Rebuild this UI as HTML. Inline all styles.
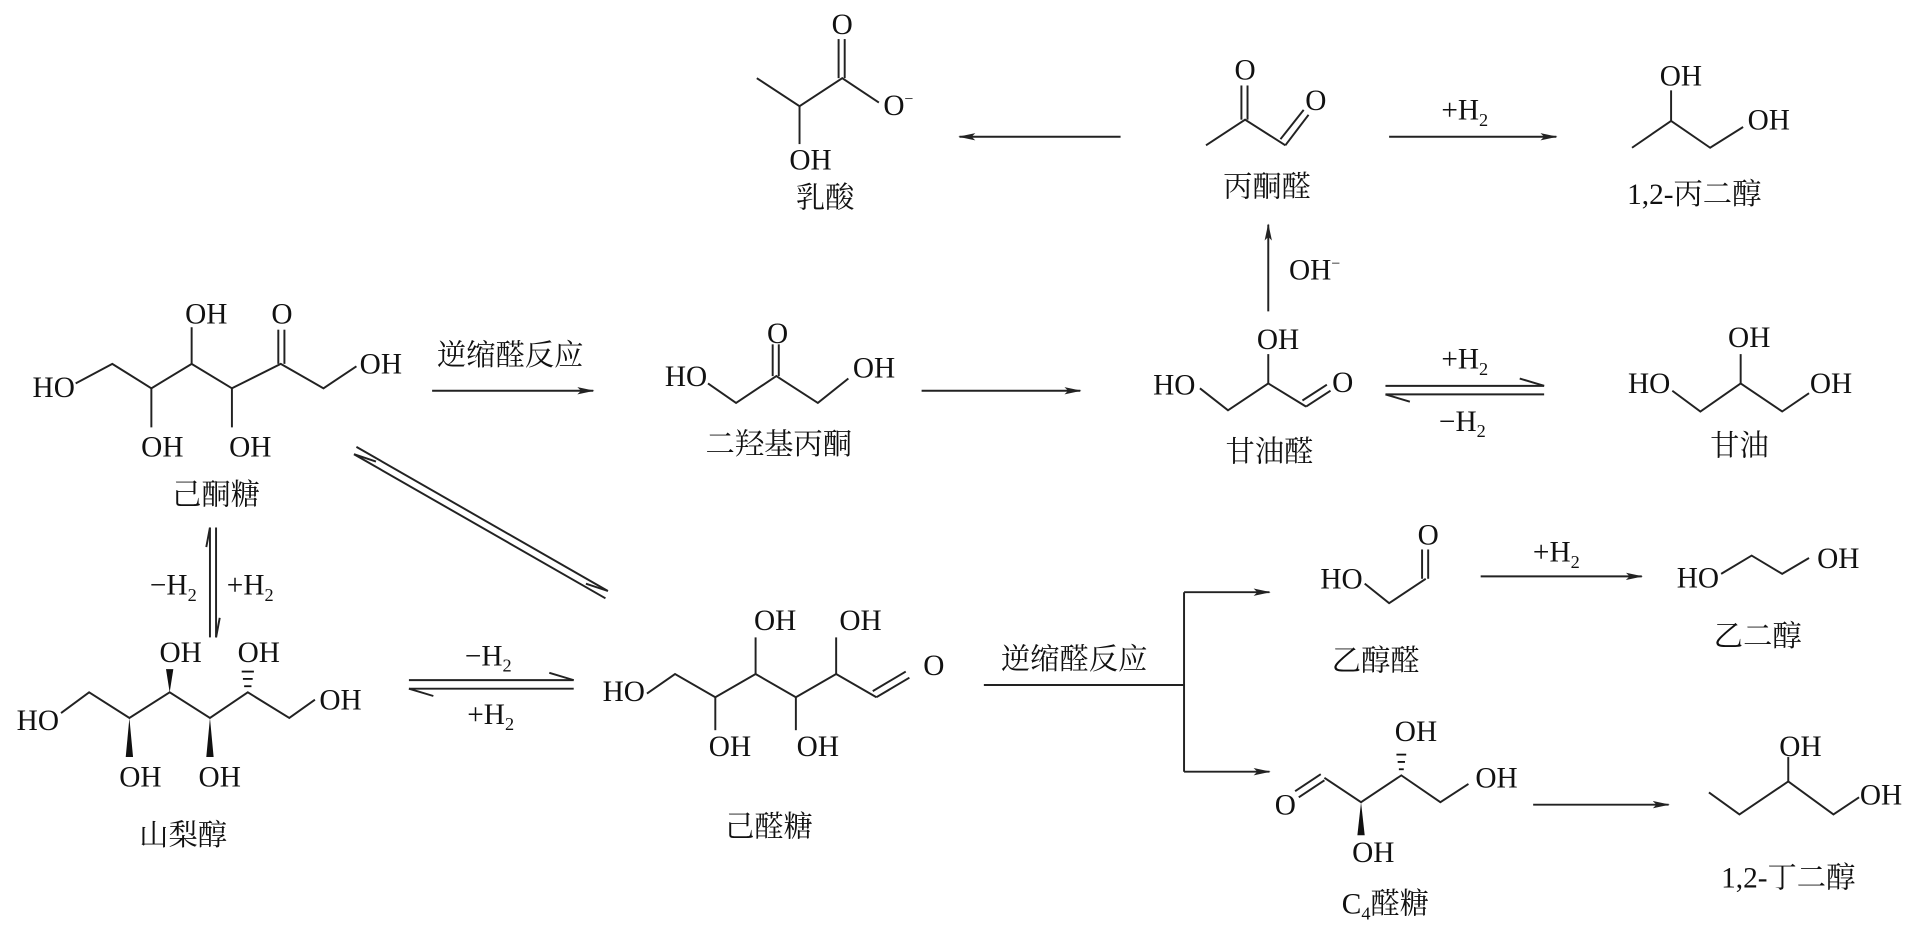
<!DOCTYPE html>
<html><head><meta charset="utf-8"><style>
html,body{margin:0;padding:0;background:#fff;}
svg{display:block;}
text{font-family:"Liberation Serif","Noto Serif CJK SC",serif;font-size:24px;fill:#111;}
.cn{font-family:"Liberation Serif","Noto Serif CJK SC","Noto Sans CJK SC",serif;font-size:24px;}
</style></head><body>
<svg width="1914" height="928" viewBox="0 0 1568 760" preserveAspectRatio="none" xmlns="http://www.w3.org/2000/svg">
<defs>
<marker id="ah" markerWidth="14" markerHeight="8" refX="13" refY="4" orient="auto" markerUnits="userSpaceOnUse">
<path d="M0,1 L14,4 L0,7 L3,4 Z" fill="#222"/></marker>
</defs>
<g stroke="#222" stroke-width="1.6" fill="none">
<polyline points="620,64 655,87 690,64 720,84"/>
<line x1="687" y1="64" x2="687" y2="32"/><line x1="692" y1="64" x2="692" y2="32"/>
<line x1="655" y1="87" x2="655" y2="118"/>
<line x1="918" y1="112" x2="786" y2="112" marker-end="url(#ah)"/>
<polyline points="988,119 1020,98 1053,119"/>
<line x1="1017" y1="98" x2="1017" y2="70"/><line x1="1022" y1="98" x2="1022" y2="70"/>
<line x1="1053" y1="119" x2="1072" y2="94"/><line x1="1049" y1="114" x2="1068" y2="90"/>
<line x1="1138" y1="112" x2="1275" y2="112" marker-end="url(#ah)"/>
<polyline points="1337,121 1369,99 1401,121 1428,104"/>
<line x1="1369" y1="99" x2="1369" y2="74"/>
<line x1="1039" y1="255" x2="1039" y2="184" marker-end="url(#ah)"/>
<polyline points="62,314 92,298 124,318 157,298 190,318 230,298 265,318 292,300"/>
<line x1="157" y1="298" x2="157" y2="268"/>
<line x1="228" y1="298" x2="228" y2="270"/><line x1="233" y1="298" x2="233" y2="270"/>
<line x1="124" y1="318" x2="124" y2="350"/><line x1="190" y1="318" x2="190" y2="350"/>
<line x1="354" y1="320" x2="486" y2="320" marker-end="url(#ah)"/>
<polyline points="580,314 603,330 636,308 670,330 695,310"/>
<line x1="633" y1="308" x2="633" y2="282"/><line x1="638" y1="308" x2="638" y2="282"/>
<line x1="755" y1="320" x2="885" y2="320" marker-end="url(#ah)"/>
<polyline points="983,318 1006,336 1039,314 1070,333"/>
<line x1="1039" y1="314" x2="1039" y2="290"/>
<line x1="1070" y1="333" x2="1090" y2="320"/><line x1="1067" y1="328" x2="1087" y2="315"/>
<line x1="1135" y1="316" x2="1265" y2="316"/><polyline points="1245,310 1265,316"/>
<line x1="1135" y1="323" x2="1265" y2="323"/><polyline points="1155,329 1135,323"/>
<polyline points="1370,320 1393,337 1426,314 1460,337 1482,322"/>
<line x1="1426" y1="314" x2="1426" y2="290"/>
<line x1="292" y1="366" x2="498" y2="484"/><line x1="290" y1="372" x2="496" y2="490"/>
<polyline points="480,478 498,484"/><polyline points="308,378 290,372"/>
<line x1="172" y1="432" x2="172" y2="522"/><line x1="177" y1="432" x2="177" y2="522"/>
<polyline points="169,448 172,432"/><polyline points="180,506 177,522"/>
<polyline points="50,584 73,567 106,588 139,567 172,588 203,567 237,588 258,573"/>
<line x1="335" y1="557" x2="470" y2="557"/><polyline points="450,551 470,557"/>
<line x1="335" y1="564" x2="470" y2="564"/><polyline points="355,570 335,564"/>
<polyline points="530,568 553,552 586,571 619,552 652,571 685,552 718,571"/>
<line x1="718" y1="571" x2="745" y2="555"/><line x1="715" y1="566" x2="742" y2="550"/>
<line x1="619" y1="552" x2="619" y2="522"/><line x1="685" y1="552" x2="685" y2="522"/>
<line x1="586" y1="571" x2="586" y2="598"/><line x1="652" y1="571" x2="652" y2="598"/>
<line x1="806" y1="561" x2="970" y2="561"/>
<line x1="970" y1="485" x2="970" y2="632"/>
<line x1="970" y1="485" x2="1040" y2="485" marker-end="url(#ah)"/>
<line x1="970" y1="632" x2="1040" y2="632" marker-end="url(#ah)"/>
<polyline points="1118,478 1138,494 1168,474"/>
<line x1="1165" y1="474" x2="1165" y2="450"/><line x1="1170" y1="474" x2="1170" y2="450"/>
<line x1="1213" y1="472" x2="1345" y2="472" marker-end="url(#ah)"/>
<polyline points="1410,470 1435,455 1460,470 1482,457"/>
<line x1="1064" y1="653" x2="1085" y2="639"/><line x1="1061" y1="648" x2="1082" y2="634"/>
<polyline points="1085,637 1115,657 1148,635 1180,657 1203,642"/>
<line x1="1256" y1="659" x2="1367" y2="659" marker-end="url(#ah)"/>
<polyline points="1400,649 1425,667 1465,640 1502,667 1523,653"/>
<line x1="1465" y1="640" x2="1465" y2="620"/>
</g>
<g fill="#111">
<polygon points="106,588 103,620 109,620"/>
<polygon points="172,588 169,620 175,620"/>
<polygon points="139,567 136,548 142,548"/>
<polygon points="1115,657 1112,684 1118,684"/>
</g>
<g stroke="#111" stroke-width="1.5">
<line x1="200" y1="562" x2="206" y2="562"/><line x1="199" y1="556" x2="207" y2="556"/><line x1="198" y1="550" x2="208" y2="550"/>
<line x1="1146" y1="630" x2="1150" y2="630"/><line x1="1145" y1="624" x2="1151" y2="624"/><line x1="1144" y1="618" x2="1152" y2="618"/>
</g>
<g text-anchor="middle">
<text x="690" y="28">O</text><text x="736" y="94">O<tspan font-size="13" dy="-9">−</tspan></text><text x="664" y="139">OH</text>
<text class="cn" x="676" y="170">乳酸</text>
<text x="1020" y="65">O</text><text x="1078" y="90">O</text><text class="cn" x="1038" y="161">丙酮醛</text>
<text x="1200" y="98">+H<tspan font-size="15" dy="5">2</tspan></text>
<text x="1377" y="70">OH</text><text x="1449" y="106">OH</text><text class="cn" x="1388" y="167">1,2-丙二醇</text>
<text x="1077" y="229">OH<tspan font-size="13" dy="-9">−</tspan></text>
<text x="44" y="325">HO</text><text x="169" y="265">OH</text><text x="231" y="265">O</text><text x="312" y="306">OH</text>
<text x="133" y="374">OH</text><text x="205" y="374">OH</text><text class="cn" x="177" y="413">己酮糖</text>
<text class="cn" x="418" y="299">逆缩醛反应</text>
<text x="562" y="316">HO</text><text x="637" y="281">O</text><text x="716" y="309">OH</text>
<text class="cn" x="638" y="372">二羟基丙酮</text>
<text x="962" y="323">HO</text><text x="1047" y="286">OH</text><text x="1100" y="321">O</text>
<text class="cn" x="1040" y="378">甘油醛</text>
<text x="1200" y="302">+H<tspan font-size="15" dy="5">2</tspan></text>
<text x="1198" y="353">−H<tspan font-size="15" dy="5">2</tspan></text>
<text x="1351" y="322">HO</text><text x="1433" y="284">OH</text><text x="1500" y="322">OH</text>
<text class="cn" x="1425" y="373">甘油</text>
<text x="142" y="487">−H<tspan font-size="15" dy="5">2</tspan></text>
<text x="205" y="487">+H<tspan font-size="15" dy="5">2</tspan></text>
<text x="31" y="598">HO</text><text x="148" y="542">OH</text><text x="212" y="542">OH</text><text x="279" y="581">OH</text>
<text x="115" y="644">OH</text><text x="180" y="644">OH</text>
<text class="cn" x="150" y="692">山梨醇</text>
<text x="400" y="545">−H<tspan font-size="15" dy="5">2</tspan></text>
<text x="402" y="593">+H<tspan font-size="15" dy="5">2</tspan></text>
<text x="511" y="574">HO</text><text x="635" y="516">OH</text><text x="705" y="516">OH</text><text x="765" y="553">O</text>
<text x="598" y="619">OH</text><text x="670" y="619">OH</text>
<text class="cn" x="630" y="685">己醛糖</text>
<text class="cn" x="880" y="548">逆缩醛反应</text>
<text x="1099" y="482">HO</text><text x="1170" y="446">O</text>
<text class="cn" x="1127" y="549">乙醇醛</text>
<text x="1275" y="460">+H<tspan font-size="15" dy="5">2</tspan></text>
<text x="1391" y="481">HO</text><text x="1506" y="465">OH</text>
<text class="cn" x="1440" y="529">乙二醇</text>
<text x="1053" y="667">O</text><text x="1160" y="607">OH</text><text x="1226" y="645">OH</text><text x="1125" y="706">OH</text>
<text class="cn" x="1135" y="748">C<tspan font-size="15" dy="5">4</tspan><tspan dy="-5">醛糖</tspan></text>
<text x="1475" y="619">OH</text><text x="1541" y="659">OH</text>
<text class="cn" x="1465" y="727">1,2-丁二醇</text>
</g>
</svg>
</body></html>
